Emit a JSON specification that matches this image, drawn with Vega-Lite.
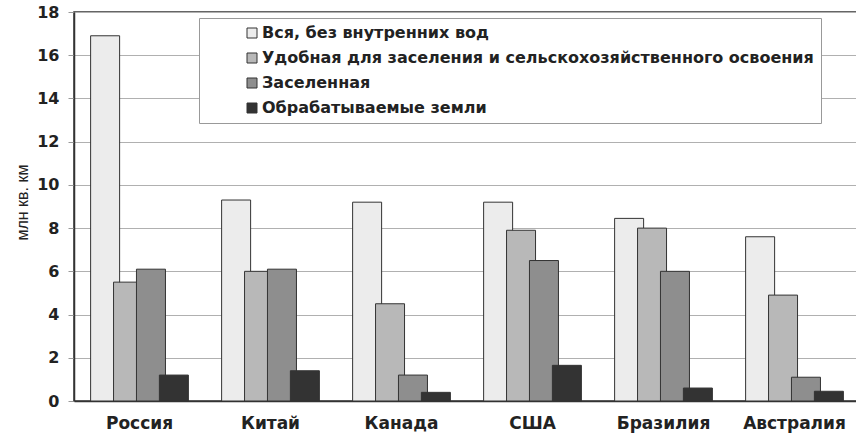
{
  "$schema": "https://vega.github.io/schema/vega-lite/v6.json",
  "autosize": "none",
  "padding": {"left": 74, "top": 12, "right": 0, "bottom": 40},
  "width": 786,
  "height": 389,
  "background": "white",
  "config": {
    "font": "DejaVu Sans",
    "view": {"stroke": "#333333", "strokeWidth": 1.5}
  },
  "data": {
    "values": [
      {"country": "Россия", "type": "Вся, без внутренних вод", "value": 16.9},
      {"country": "Россия", "type": "Удобная для заселения и сельскохозяйственного освоения", "value": 5.5},
      {"country": "Россия", "type": "Заселенная", "value": 6.1},
      {"country": "Россия", "type": "Обрабатываемые земли", "value": 1.2},
      {"country": "Китай", "type": "Вся, без внутренних вод", "value": 9.3},
      {"country": "Китай", "type": "Удобная для заселения и сельскохозяйственного освоения", "value": 6.0},
      {"country": "Китай", "type": "Заселенная", "value": 6.1},
      {"country": "Китай", "type": "Обрабатываемые земли", "value": 1.4},
      {"country": "Канада", "type": "Вся, без внутренних вод", "value": 9.2},
      {"country": "Канада", "type": "Удобная для заселения и сельскохозяйственного освоения", "value": 4.5},
      {"country": "Канада", "type": "Заселенная", "value": 1.2},
      {"country": "Канада", "type": "Обрабатываемые земли", "value": 0.4},
      {"country": "США", "type": "Вся, без внутренних вод", "value": 9.2},
      {"country": "США", "type": "Удобная для заселения и сельскохозяйственного освоения", "value": 7.9},
      {"country": "США", "type": "Заселенная", "value": 6.5},
      {"country": "США", "type": "Обрабатываемые земли", "value": 1.65},
      {"country": "Бразилия", "type": "Вся, без внутренних вод", "value": 8.45},
      {"country": "Бразилия", "type": "Удобная для заселения и сельскохозяйственного освоения", "value": 8.0},
      {"country": "Бразилия", "type": "Заселенная", "value": 6.0},
      {"country": "Бразилия", "type": "Обрабатываемые земли", "value": 0.6},
      {"country": "Австралия", "type": "Вся, без внутренних вод", "value": 7.6},
      {"country": "Австралия", "type": "Удобная для заселения и сельскохозяйственного освоения", "value": 4.9},
      {"country": "Австралия", "type": "Заселенная", "value": 1.1},
      {"country": "Австралия", "type": "Обрабатываемые земли", "value": 0.45}
    ]
  },
  "mark": {"type": "bar", "width": 29, "stroke": "#333333", "strokeWidth": 1},
  "encoding": {
    "x": {
      "field": "country",
      "type": "nominal",
      "sort": null,
      "scale": {"paddingInner": 0.3, "paddingOuter": 0.15},
      "axis": {
        "title": null,
        "labelAngle": 0,
        "ticks": false,
        "domainColor": "#333333",
        "domainWidth": 1.5,
        "labelFont": "DejaVu Sans",
        "labelFontWeight": "bold",
        "labelFontSize": 17,
        "labelColor": "#222222",
        "labelPadding": 14
      }
    },
    "xOffset": {
      "field": "type",
      "type": "nominal",
      "sort": null,
      "scale": {"paddingInner": 0, "paddingOuter": 0}
    },
    "y": {
      "field": "value",
      "type": "quantitative",
      "scale": {"domain": [0, 18], "nice": false},
      "axis": {
        "title": "млн кв. км",
        "titleFont": "Liberation Sans",
        "titleFontWeight": "normal",
        "titleFontSize": 16,
        "titleColor": "#222222",
        "titleAngle": 270,
        "titleX": -52,
        "titleY": 190,
        "titleAlign": "center",
        "titleBaseline": "middle",
        "values": [0, 2, 4, 6, 8, 10, 12, 14, 16, 18],
        "grid": true,
        "gridColor": "#b0b0b0",
        "gridWidth": 1,
        "tickColor": "#999999",
        "tickSize": 6,
        "domainColor": "#333333",
        "domainWidth": 1.5,
        "labelFont": "DejaVu Sans",
        "labelFontWeight": "bold",
        "labelFontSize": 16,
        "labelColor": "#222222",
        "labelPadding": 9
      }
    },
    "fill": {
      "field": "type",
      "type": "nominal",
      "sort": null,
      "scale": {
        "domain": ["Вся, без внутренних вод", "Удобная для заселения и сельскохозяйственного освоения", "Заселенная", "Обрабатываемые земли"],
        "range": ["#ececec", "#b8b8b8", "#8e8e8e", "#333333"]
      },
      "legend": {
        "title": "\u00a0\u00a0\u00a0\u00a0\u00a0",
        "titleOrient": "right",
        "titlePadding": 0,
        "titleFontSize": 16,
        "titleFont": "DejaVu Sans",
        "orient": "none",
        "legendX": 125,
        "legendY": 6,
        "padding": 7,
        "symbolOffset": 38,
        "strokeColor": "#999999",
        "fillColor": "white",
        "symbolType": "square",
        "symbolSize": 100,
        "symbolStrokeColor": "#333333",
        "symbolStrokeWidth": 1,
        "labelFont": "DejaVu Sans",
        "labelFontWeight": "bold",
        "labelFontSize": 16,
        "labelColor": "#222222",
        "labelLimit": 800,
        "labelOffset": 2,
        "rowPadding": 9
      }
    }
  }
}
